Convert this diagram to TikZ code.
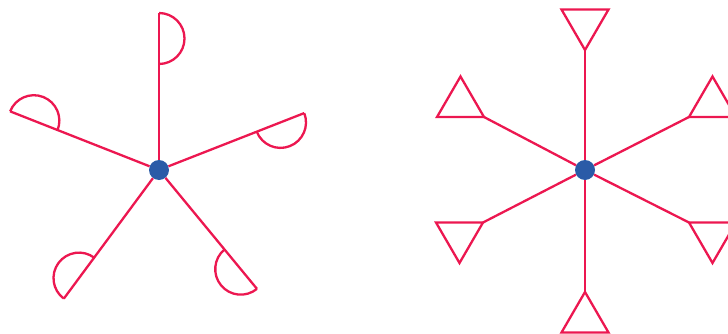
\documentclass[tikz,border=0pt]{standalone}
\usetikzlibrary{positioning}
\definecolor{armred}{HTML}{EC1750}
\definecolor{hubblue}{HTML}{2A5BA7}

\begin{document}
\begin{tikzpicture}[
    x=1pt, y=1pt,
    arm/.style={armred, line width=2.3pt},
    hub/.style={circle, fill=hubblue, minimum size=20pt, inner sep=0pt}
]
    \useasboundingbox (0,0) rectangle (728,333);

    % left star, half discs at the tips
    \node[hub] (hubL) at (159,163) {};
    \foreach \a/\l [count=\i] in {90/157,158.5/160,21.4/156,233.5/160,309.5/154} {
        \coordinate (tipL\i) at ([shift={(\a:\l)}]hubL.center);
        \draw[arm] (hubL) -- (tipL\i);
        \draw[arm] (tipL\i) arc[start angle=\a, end angle=\a-180, radius=25.5];
    }

    % right star, triangles at the tips
    \node[hub] (hubR) at (585,163) {};
    \foreach \dy/\s [count=\i] in {120/1,-122/-1} {
        \coordinate (tipV\i) at ([shift={(0,\dy)}]hubR.center);
        \draw[arm] (hubR) -- (tipV\i);
        \draw[arm] (tipV\i) -- ++(-23.5,\s*40.5) -- ++(47,0) -- cycle;
    }
    \foreach \dx/\dy/\sx/\sy [count=\i] in {-101/53/-1/1,-102/-52.5/-1/-1,104/53/1/1,104/-52.5/1/-1} {
        \coordinate (tipS\i) at ([shift={(\dx,\dy)}]hubR.center);
        \draw[arm] (hubR) -- (tipS\i);
        \draw[arm] (tipS\i) -- ++(\sx*47,0) -- ++(-\sx*23.5,\sy*40.5) -- cycle;
    }
\end{tikzpicture}
\end{document}
